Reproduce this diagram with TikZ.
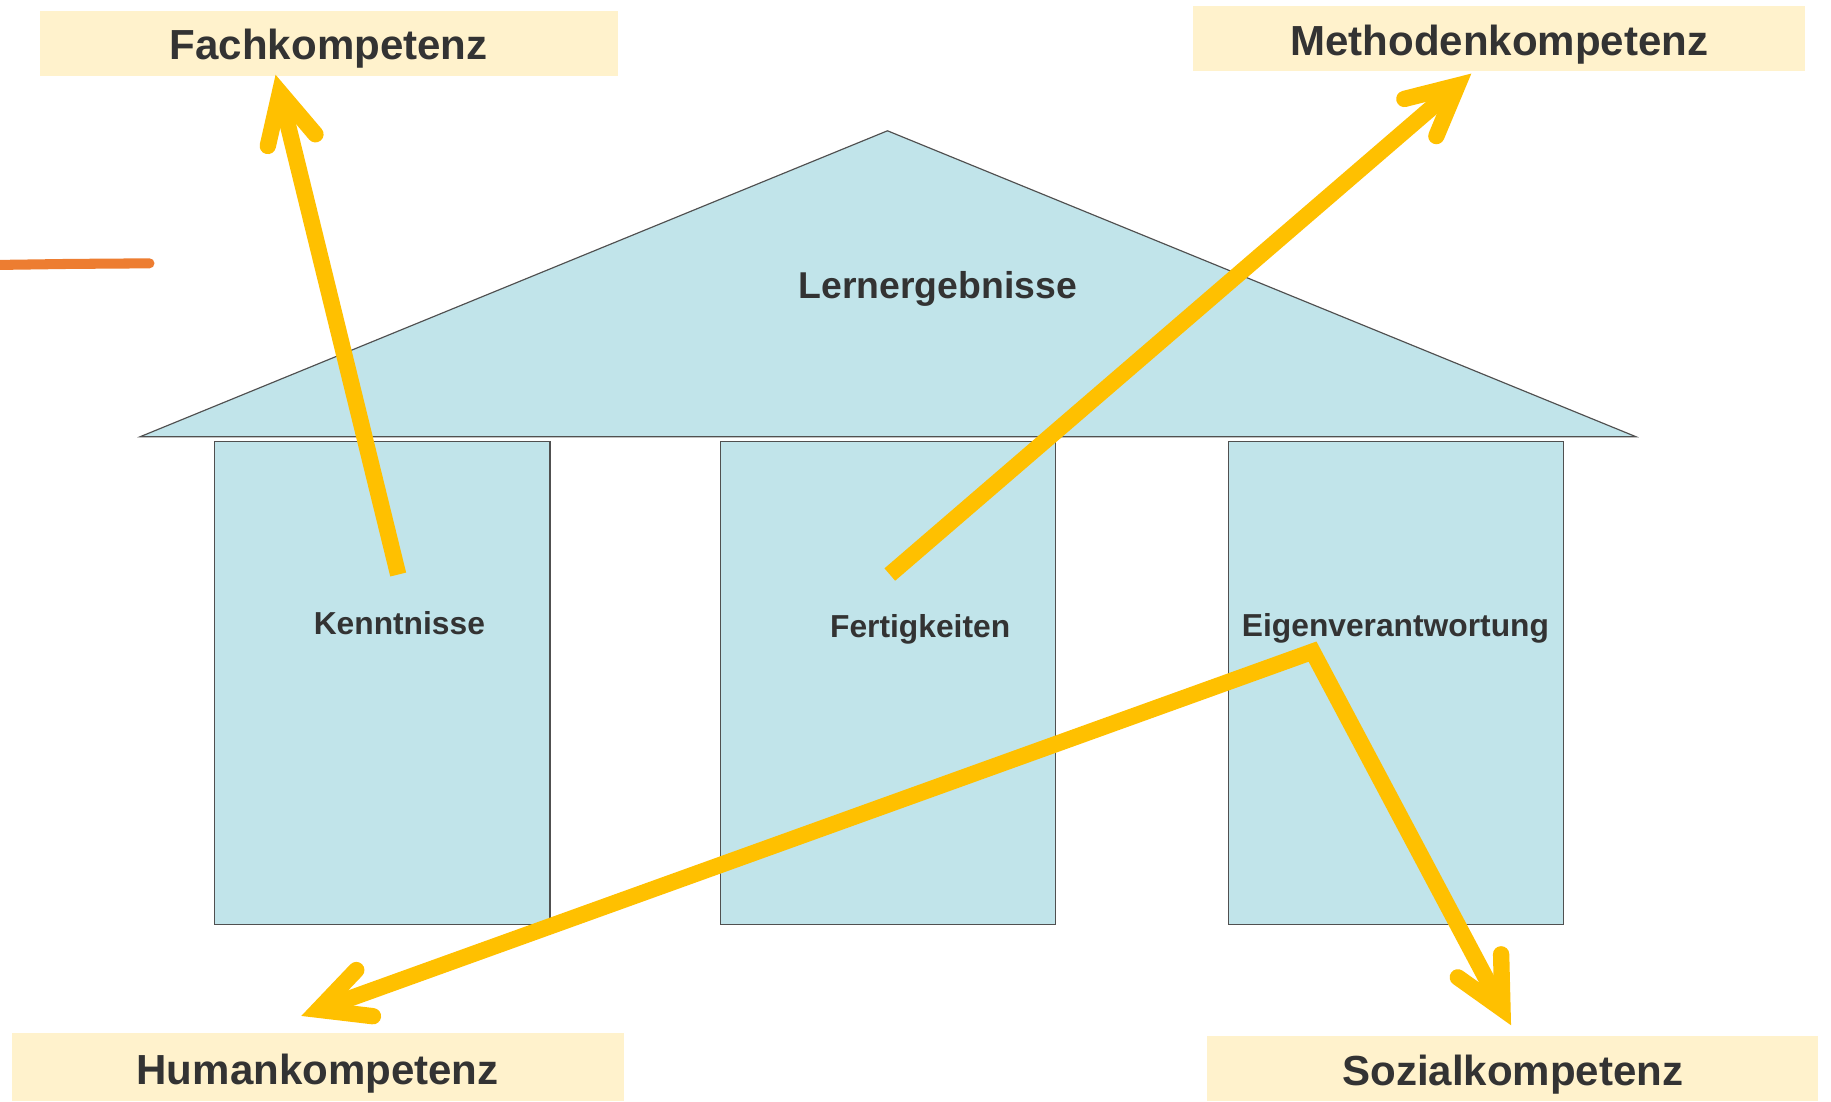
\documentclass[tikz,border=0pt]{standalone}
\usepackage{fontspec}
\setmainfont{Liberation Sans}
\usetikzlibrary{arrows.meta}
\definecolor{housefill}{RGB}{193,228,234}
\definecolor{houseline}{RGB}{80,80,80}
\definecolor{cream}{RGB}{255,242,204}
\definecolor{ayellow}{RGB}{255,192,0}
\definecolor{aorange}{RGB}{237,125,49}
\definecolor{txt}{RGB}{51,51,51}
\begin{document}
\begin{tikzpicture}[x=0.5pt,y=-0.5pt,
  labelbox/.style={fill=cream, draw=none, inner sep=0pt, text=txt,
     font=\fontsize{18}{20}\selectfont\bfseries, minimum height=28pt,
     text height=14.3pt, text depth=0pt},
  pillar/.style={fill=housefill, draw=houseline, line width=0.5pt,
     minimum width=143.5pt, minimum height=207pt, inner sep=0pt},
  roof/.style={fill=housefill, draw=houseline, line width=0.5pt},
  pillartext/.style={text=txt, inner sep=0pt, font=\fontsize{13.6}{15}\selectfont\bfseries},
  rooftext/.style={text=txt, inner sep=0pt, font=\fontsize{16}{18}\selectfont\bfseries},
  yline/.style={draw=ayellow, line width=7pt, line join=miter},
  >={Straight Barb[length=21pt,width=21pt,line cap=round]}
]
\useasboundingbox (0,0) rectangle (1568,943);
\fill[white] (0,0) rectangle (1568,943);

% label boxes
\node[labelbox, minimum width=247.5pt] (fach) at (281.5,37) {Fachkompetenz};
\node[labelbox, minimum width=262pt] (meth) at (1284,33) {Methodenkompetenz};
\node[labelbox, minimum width=262pt, minimum height=29pt] (human) at (272,914) {Humankompetenz};
\node[labelbox, minimum width=261.5pt] (sozial) at (1295.5,915) {Sozialkompetenz};

% house
\draw[roof] (120,374) -- (760,112) -- (1401,374) -- cycle;
\node[rooftext] (lern) at (803,247) {Lernergebnisse};
\node[pillar] (p1) at (327.5,585) {};
\node[pillar] (p2) at (760.5,585) {};
\node[pillar] (p3) at (1195.5,585) {};
\node[pillartext] (kennt) at (342,534) {Kenntnisse};
\node[pillartext] (fert) at (788,539) {Fertigkeiten};
\node[pillartext] (eigen) at (1195,538) {Eigenverantwortung};

% orange stroke
\draw[aorange, line width=4.3pt, line cap=round] (-10,227) -- (60,226) -- (128,225.5);

% arrow coordinates
\coordinate (fs) at (341,492);
\coordinate (ft) at (236,64);
\coordinate (ms) at (762,492);
\coordinate (mt) at (1260,63);
\coordinate (hv) at (1124,558);
\coordinate (ht) at (258,870);
\coordinate (st) at (1294,878);

\draw[yline, ->] (fs) -- (ft);
\draw[yline, ->] (ms) -- (mt);
\draw[yline, <->] (ht) -- (hv) -- (st);
\end{tikzpicture}
\end{document}
